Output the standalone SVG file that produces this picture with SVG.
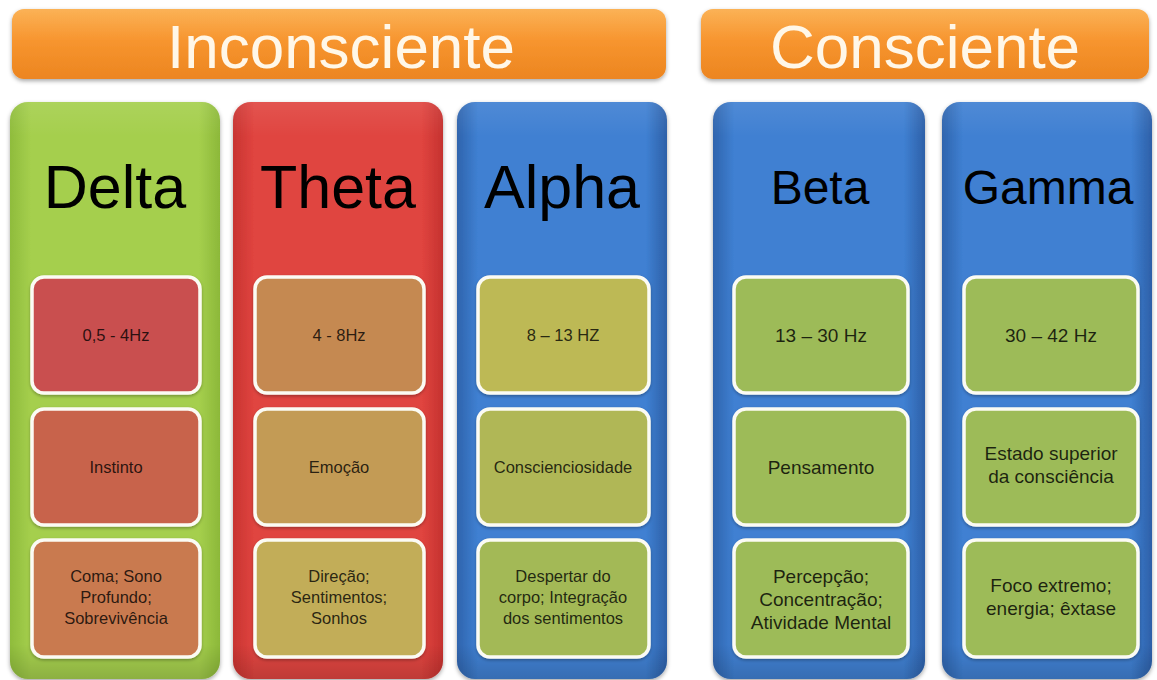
<svg xmlns="http://www.w3.org/2000/svg" width="1157" height="680" viewBox="0 0 1157 680">
<style>
  text { font-family: "Liberation Sans", Arial, sans-serif; text-anchor: middle; }
  .hdr-text { font-size: 62px; fill: #fff7e8; }
  .title { font-size: 61px; fill: #000; }
  .title-s { font-size: 48px; fill: #000; }
  .lbl { font-size: 16.5px; fill: #000; fill-opacity: 0.8; }
  .lbl-l { font-size: 19px; fill: #000; fill-opacity: 0.82; }
  .box { stroke: #fbfbf4; stroke-width: 3.5; }
</style>
<defs>
  <linearGradient id="gOrange" x1="0" y1="0" x2="0" y2="1">
    <stop offset="0" stop-color="#fbb256"/>
    <stop offset="0.45" stop-color="#f7952f"/>
    <stop offset="1" stop-color="#ec8520"/>
  </linearGradient>
  <linearGradient id="gGreen" x1="0" y1="0" x2="1" y2="0">
    <stop offset="0" stop-color="#8fbc3c"/>
    <stop offset="0.1" stop-color="#a5cf4d"/>
    <stop offset="0.9" stop-color="#a5cf4d"/>
    <stop offset="1" stop-color="#8cb839"/>
  </linearGradient>
  <linearGradient id="gRed" x1="0" y1="0" x2="1" y2="0">
    <stop offset="0" stop-color="#c83431"/>
    <stop offset="0.1" stop-color="#e0443f"/>
    <stop offset="0.9" stop-color="#e0443f"/>
    <stop offset="1" stop-color="#c5322f"/>
  </linearGradient>
  <linearGradient id="gBlue" x1="0" y1="0" x2="1" y2="0">
    <stop offset="0" stop-color="#2f64ad"/>
    <stop offset="0.1" stop-color="#3f80d2"/>
    <stop offset="0.9" stop-color="#3f80d2"/>
    <stop offset="1" stop-color="#2d60a8"/>
  </linearGradient>
  <linearGradient id="gSheen" x1="0" y1="0" x2="0" y2="1">
    <stop offset="0" stop-color="#fff" stop-opacity="0.08"/>
    <stop offset="0.06" stop-color="#fff" stop-opacity="0"/>
    <stop offset="0.94" stop-color="#000" stop-opacity="0"/>
    <stop offset="1" stop-color="#000" stop-opacity="0.15"/>
  </linearGradient>
  <filter id="shadow" x="-5%" y="-5%" width="110%" height="115%">
    <feDropShadow dx="0" dy="2" stdDeviation="2" flood-color="#000" flood-opacity="0.35"/>
  </filter>
  <filter id="bshadow" x="-5%" y="-5%" width="110%" height="115%">
    <feDropShadow dx="0" dy="1.5" stdDeviation="1.5" flood-color="#000" flood-opacity="0.3"/>
  </filter>
</defs>
<rect x="0" y="0" width="1157" height="680" fill="#ffffff"/>

<g id="hdr-inconsciente">
  <rect x="12" y="9" width="654" height="70" rx="12" fill="url(#gOrange)" filter="url(#shadow)"/>
  <text class="hdr-text" x="341" y="68">Inconsciente</text>
</g>
<g id="hdr-consciente">
  <rect x="701" y="9" width="448" height="70" rx="12" fill="url(#gOrange)" filter="url(#shadow)"/>
  <text class="hdr-text" x="925" y="68">Consciente</text>
</g>

<g id="col-delta">
  <rect x="10" y="102" width="210" height="577" rx="18" fill="url(#gGreen)" filter="url(#shadow)"/>
  <rect x="10" y="102" width="210" height="577" rx="18" fill="url(#gSheen)"/>
  <text class="title" x="115" y="208">Delta</text>
  <rect class="box" x="32" y="277" width="168" height="116" rx="12" fill="#c9504f" filter="url(#bshadow)"/>
  <text class="lbl" x="116" y="341">0,5 - 4Hz</text>
  <rect class="box" x="32" y="409" width="168" height="116" rx="12" fill="#c8634c" filter="url(#bshadow)"/>
  <text class="lbl" x="116" y="473">Instinto</text>
  <rect class="box" x="32" y="540" width="168" height="117" rx="12" fill="#c97a4f" filter="url(#bshadow)"/>
  <text class="lbl" x="116" y="582">Coma; Sono</text>
  <text class="lbl" x="116" y="603">Profundo;</text>
  <text class="lbl" x="116" y="624">Sobrevivência</text>
</g>

<g id="col-theta">
  <rect x="233" y="102" width="210" height="577" rx="18" fill="url(#gRed)" filter="url(#shadow)"/>
  <rect x="233" y="102" width="210" height="577" rx="18" fill="url(#gSheen)"/>
  <text class="title" x="338" y="208">Theta</text>
  <rect class="box" x="255" y="277" width="169" height="116" rx="12" fill="#c58951" filter="url(#bshadow)"/>
  <text class="lbl" x="339" y="341">4 - 8Hz</text>
  <rect class="box" x="255" y="409" width="169" height="116" rx="12" fill="#c39b55" filter="url(#bshadow)"/>
  <text class="lbl" x="339" y="473">Emoção</text>
  <rect class="box" x="255" y="540" width="169" height="117" rx="12" fill="#c2ad58" filter="url(#bshadow)"/>
  <text class="lbl" x="339" y="582">Direção;</text>
  <text class="lbl" x="339" y="603">Sentimentos;</text>
  <text class="lbl" x="339" y="624">Sonhos</text>
</g>

<g id="col-alpha">
  <rect x="457" y="102" width="210" height="577" rx="18" fill="url(#gBlue)" filter="url(#shadow)"/>
  <rect x="457" y="102" width="210" height="577" rx="18" fill="url(#gSheen)"/>
  <text class="title" x="562" y="208">Alpha</text>
  <rect class="box" x="478" y="277" width="171" height="116" rx="12" fill="#bdb955" filter="url(#bshadow)"/>
  <text class="lbl" x="563" y="341">8 – 13 HZ</text>
  <rect class="box" x="478" y="409" width="171" height="116" rx="12" fill="#b0b757" filter="url(#bshadow)"/>
  <text class="lbl" x="563" y="473">Conscienciosidade</text>
  <rect class="box" x="478" y="540" width="171" height="117" rx="12" fill="#a3b957" filter="url(#bshadow)"/>
  <text class="lbl" x="563" y="582">Despertar do</text>
  <text class="lbl" x="563" y="603">corpo; Integração</text>
  <text class="lbl" x="563" y="624">dos sentimentos</text>
</g>

<g id="col-beta">
  <rect x="713" y="102" width="212" height="577" rx="18" fill="url(#gBlue)" filter="url(#shadow)"/>
  <rect x="713" y="102" width="212" height="577" rx="18" fill="url(#gSheen)"/>
  <text class="title-s" x="820" y="204">Beta</text>
  <rect class="box" x="734" y="277" width="174" height="116" rx="12" fill="#9dbb59" filter="url(#bshadow)"/>
  <text class="lbl-l" x="821" y="342">13 – 30 Hz</text>
  <rect class="box" x="734" y="409" width="174" height="116" rx="12" fill="#9dbb59" filter="url(#bshadow)"/>
  <text class="lbl-l" x="821" y="474">Pensamento</text>
  <rect class="box" x="734" y="540" width="174" height="117" rx="12" fill="#9dbb59" filter="url(#bshadow)"/>
  <text class="lbl-l" x="821" y="583">Percepção;</text>
  <text class="lbl-l" x="821" y="606">Concentração;</text>
  <text class="lbl-l" x="821" y="629">Atividade Mental</text>
</g>

<g id="col-gamma">
  <rect x="942" y="102" width="210" height="577" rx="18" fill="url(#gBlue)" filter="url(#shadow)"/>
  <rect x="942" y="102" width="210" height="577" rx="18" fill="url(#gSheen)"/>
  <text class="title-s" x="1048" y="204">Gamma</text>
  <rect class="box" x="964" y="277" width="174" height="116" rx="12" fill="#9dbb59" filter="url(#bshadow)"/>
  <text class="lbl-l" x="1051" y="342">30 – 42 Hz</text>
  <rect class="box" x="964" y="409" width="174" height="116" rx="12" fill="#9dbb59" filter="url(#bshadow)"/>
  <text class="lbl-l" x="1051" y="460">Estado superior</text>
  <text class="lbl-l" x="1051" y="483">da consciência</text>
  <rect class="box" x="964" y="540" width="174" height="117" rx="12" fill="#9dbb59" filter="url(#bshadow)"/>
  <text class="lbl-l" x="1051" y="592">Foco extremo;</text>
  <text class="lbl-l" x="1051" y="615">energia; êxtase</text>
</g>

<g id="connectors"></g>
</svg>
